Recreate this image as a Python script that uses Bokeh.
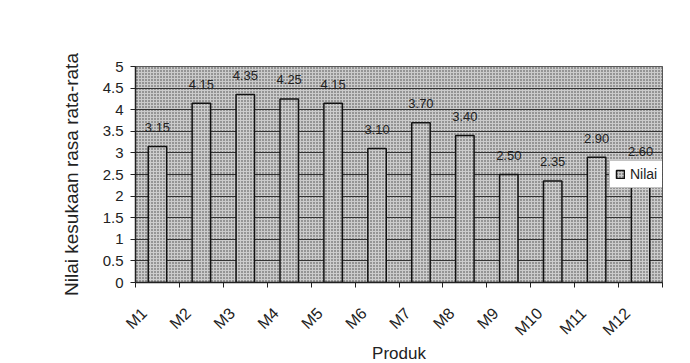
from bokeh.plotting import figure
from bokeh.models import (ColumnDataSource, FixedTicker, LabelSet, BoxAnnotation,
                          Range1d, Legend, LegendItem)
from bokeh.core.properties import value
from bokeh.embed import file_html
from bokeh.resources import INLINE
import math

# ---- data ----
products = ["M1", "M2", "M3", "M4", "M5", "M6", "M7", "M8", "M9", "M10", "M11", "M12"]
scores = [3.15, 4.15, 4.35, 4.25, 4.15, 3.10, 3.70, 3.40, 2.50, 2.35, 2.90, 2.60]
score_labels = ["3.15", "4.15", "4.35", "4.25", "4.15", "3.10", "3.70", "3.40", "2.50", "2.35", "2.90", "2.60"]
y_ticks = [0, 0.5, 1, 1.5, 2, 2.5, 3, 3.5, 4, 4.5, 5]
y_tick_labels = ["0", "0.5", "1", "1.5", "2", "2.5", "3", "3.5", "4", "4.5", "5"]
series_name = "Nilai"
x_title = "Produk"
y_title = "Nilai kesukaan rasa rata-rata"

FONT = "Liberation Sans"
INK = "#222222"
LABEL_SHIFT = 0.3  # rotated tick labels sit a bit left of the category centre

xs = [i + 0.5 for i in range(len(products))]
src = ColumnDataSource(dict(x=xs, y=scores, lab=score_labels))

p = figure(frame_width=527, frame_height=216, output_backend="svg", toolbar_location=None,
           x_range=Range1d(0, len(products)), y_range=Range1d(0, 5),
           min_border_left=135, min_border_right=18, min_border_top=66, min_border_bottom=10)

p.background_fill_color = "#ffffff"
p.border_fill_color = "#ffffff"
p.outline_line_color = "#333333"
p.outline_line_width = 1

# outer chart-area border (top and left edges visible in the scan)
chart_border = BoxAnnotation(left=13, top=10, right=2000, bottom=2000,
                             left_units="canvas", top_units="canvas",
                             right_units="canvas", bottom_units="canvas",
                             fill_alpha=0, line_color="#333333", line_width=1.5,
                             line_dash="4 1", level="overlay")
p.add_layout(chart_border)

# dotted plot-area background
bg = BoxAnnotation(fill_color="#cbcbcb", fill_alpha=1.0, line_color=None,
                   hatch_pattern="dot", hatch_color="#111111", hatch_scale=3.0,
                   hatch_weight=1.3, hatch_alpha=0.75, level="image")
p.add_layout(bg)

# grid
p.xgrid.grid_line_color = None
p.ygrid.grid_line_color = "#333333"
p.ygrid.grid_line_width = 1
p.ygrid.ticker = FixedTicker(ticks=y_ticks)

bars = p.vbar(x="x", top="y", width=0.42, source=src,
              fill_color="#cdcdcd", line_color="#111111", line_width=1.5,
              hatch_pattern="dot", hatch_color="#111111", hatch_scale=3.0,
              hatch_weight=1.3, hatch_alpha=0.75)

labels = LabelSet(x="x", y="y", text="lab", source=src, text_align="center",
                  text_baseline="middle", y_offset=19, text_font=value(FONT),
                  text_font_size="13px", text_color=INK)
p.add_layout(labels)

# axes
label_pos = [x - LABEL_SHIFT for x in xs]
p.xaxis.ticker = FixedTicker(ticks=label_pos, minor_ticks=list(range(len(products) + 1)))
p.xaxis.major_label_overrides = {x: name for x, name in zip(label_pos, products)}
p.xaxis.major_label_orientation = math.pi / 4
p.xaxis.major_tick_line_color = None
p.xaxis.major_tick_out = 0
p.xaxis.major_tick_in = 0
p.xaxis.minor_tick_out = 5
p.xaxis.minor_tick_in = 0
p.xaxis.minor_tick_line_color = INK
p.xaxis.axis_line_color = INK
p.xaxis.axis_line_width = 1.5
p.xaxis.major_label_text_font = FONT
p.xaxis.major_label_text_font_size = "16px"
p.xaxis.major_label_text_color = INK
p.xaxis.major_label_standoff = 23
p.xaxis.axis_label = x_title
p.xaxis.axis_label_text_font = FONT
p.xaxis.axis_label_text_font_size = "17px"
p.xaxis.axis_label_text_font_style = "normal"
p.xaxis.axis_label_text_color = INK
p.xaxis.axis_label_standoff = -4

p.yaxis.ticker = FixedTicker(ticks=y_ticks)
p.yaxis.major_label_overrides = {t: s for t, s in zip(y_ticks, y_tick_labels)}
p.yaxis.minor_tick_line_color = None
p.yaxis.major_tick_out = 5
p.yaxis.major_tick_in = 0
p.yaxis.major_tick_line_color = INK
p.yaxis.axis_line_color = INK
p.yaxis.axis_line_width = 1.5
p.yaxis.major_label_text_font = FONT
p.yaxis.major_label_text_font_size = "15px"
p.yaxis.major_label_text_color = INK
p.yaxis.major_label_standoff = 7
p.yaxis.axis_label = y_title
p.yaxis.axis_label_text_font = FONT
p.yaxis.axis_label_text_font_size = "19px"
p.yaxis.axis_label_text_font_style = "normal"
p.yaxis.axis_label_text_color = INK
p.yaxis.axis_label_standoff = 18

legend = Legend(items=[LegendItem(label=series_name, renderers=[bars])],
                location=(474, 94), orientation="vertical",
                border_line_color="#888888", background_fill_color="#ffffff",
                background_fill_alpha=1.0, label_text_font=FONT,
                label_text_font_size="14px", label_text_color=INK,
                glyph_width=10, glyph_height=10, padding=5, spacing=0,
                margin=0, label_standoff=5)
p.add_layout(legend, "center")

open("out.html", "w").write(file_html(p, INLINE))
